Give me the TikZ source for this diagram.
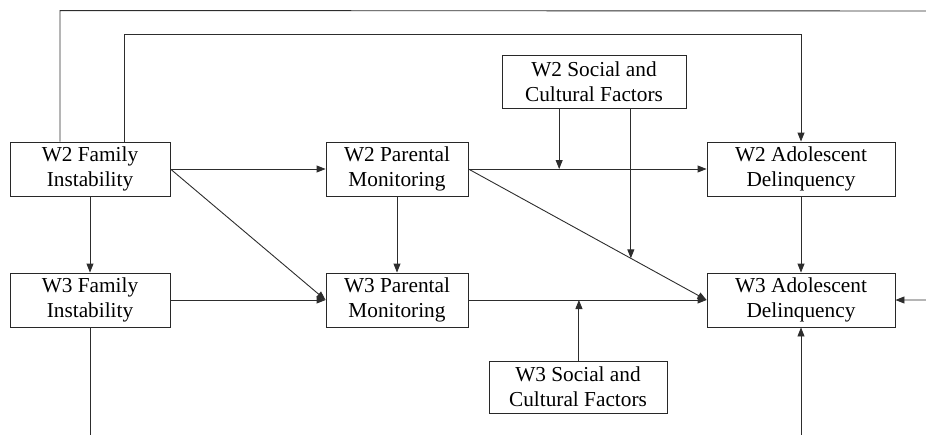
\documentclass[tikz,border=0pt]{standalone}
\usepackage{fontspec}
\setmainfont{Liberation Serif}
\usepackage{tikz}
\usetikzlibrary{arrows.meta,calc}
\definecolor{BoxLine}{RGB}{40,40,40}
\definecolor{PathLine}{RGB}{45,45,45}
\tikzset{
  nd_var/.style={rectangle,draw=BoxLine,line width=0.9pt,fill=white,align=center,inner sep=0pt,font=\fontsize{21.3}{25}\selectfont},
  arr/.style={-{Triangle[length=9pt,width=7pt]},draw=PathLine,line width=0.9pt},
}
\begin{document}
\begin{tikzpicture}[x=1pt,y=-1pt]
\useasboundingbox (0,0) rectangle (926,434);

% boxes
\node[nd_var,minimum width=160pt,minimum height=54pt] at (90,169)  (FI2){W2 Family\\Instability};
\node[nd_var,minimum width=160pt,minimum height=54pt] at (90,300)  (FI3){W3 Family\\Instability};
\node[nd_var,minimum width=142pt,minimum height=54pt] at (397,169) (PM2){W2 Parental\\Monitoring};
\node[nd_var,minimum width=142pt,minimum height=54pt] at (397,300) (PM3){W3 Parental\\Monitoring};
\node[nd_var,minimum width=184pt,minimum height=53pt] at (594,81.5)(SC2){W2 Social and\\Cultural Factors};
\node[nd_var,minimum width=178pt,minimum height=52pt] at (578,387) (SC3){W3 Social and\\Cultural Factors};
\node[nd_var,minimum width=188pt,minimum height=54pt] at (801,169) (AD2){W2 Adolescent\\Delinquency};
\node[nd_var,minimum width=188pt,minimum height=54pt] at (801,300) (AD3){W3 Adolescent\\Delinquency};

% moderation points
\path (PM2.east)--(AD2.west) coordinate[pos=0.381](m1);
\path (PM2.east)--(AD3.west) coordinate[pos=0.682](m2);
\path (PM3.east)--(AD3.west) coordinate[pos=0.464](m3);

% paths
\draw[arr](FI2)--(FI3);
\draw[arr](FI2.east)--(PM2.west);
\draw[arr](FI2.east)--(PM3.west);
\draw[arr](FI3.east)--(PM3.west);
\draw[arr](PM2)--(PM3);
\draw[arr](PM2.east)--(AD2.west);
\draw[arr](PM2.east)--(AD3.west);
\draw[arr](PM3.east)--(AD3.west);
\draw[arr](AD2)--(AD3);
\draw[arr](SC2.south -| m1)--(m1);
\draw[arr](SC2.south -| m2)--(m2);
\draw[arr](SC3.north -| m3)--(m3);

% long paths around the frame
\draw[arr]($(FI2.north)+(-30,0)$)--($(FI2.north)+(-30,-131)$)--(940,11)|-(AD3.east);
\draw[arr]($(FI2.north)+(34,0)$)--($(FI2.north)+(34,-107)$)-|(AD2.north);
\draw[arr](FI3.south)--++(0,150)-|(AD3.south);

\end{tikzpicture}
\end{document}
